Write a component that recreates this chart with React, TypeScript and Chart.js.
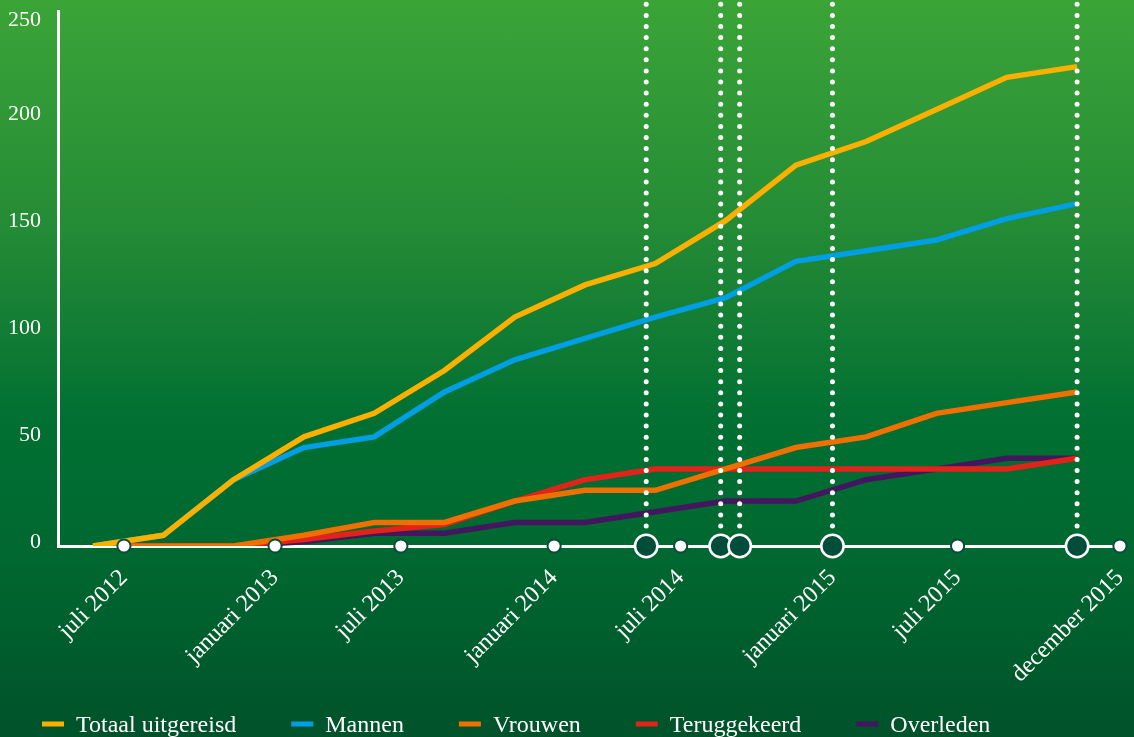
import React, { useEffect, useRef } from 'react';
import { Chart, registerables } from 'chart.js';

Chart.register(...registerables);

const seriesNames = ['Totaal uitgereisd', 'Mannen', 'Vrouwen', 'Teruggekeerd', 'Overleden'];
const seriesColors = ['#fbb000', '#009fe3', '#ef7000', '#e2231a', '#43165f'];

// data point index (one point per period)
const periods = [0, 1, 2, 3, 4, 5, 6, 7, 8, 9, 10, 11, 12, 13, 14];
const totaal = [0, 5, 31, 51, 62, 82, 107, 122, 132, 152, 178, 189, 204, 219, 224];
const mannen = [0, 5, 31, 46, 51, 72, 87, 97, 107, 116, 133, 138, 143, 153, 160];
const vrouwen = [0, 0, 0, 5, 11, 11, 21, 26, 26, 36, 46, 51, 62, 67, 72];
const teruggekeerd = [0, 0, 0, 3, 7, 10, 21, 31, 36, 36, 36, 36, 36, 36, 41];
const overleden = [0, 0, 0, 2, 6, 6, 11, 11, 16, 21, 21, 31, 36, 41, 41];

const xTickPositions = [0.44, 2.59, 4.38, 6.56, 8.36, 10.52, 12.3, 14.61];
const xTickLabels = ['juli 2012', 'januari 2013', 'juli 2013', 'januari 2014', 'juli 2014', 'januari 2015', 'juli 2015', 'december 2015'];
const eventPositions = [7.87, 8.93, 9.2, 10.52, 14.0];
const yTicks = [0, 50, 100, 150, 200, 250];

const seriesValues = [totaal, mannen, vrouwen, teruggekeerd, overleden];
const FONT = '"Liberation Serif", "Times New Roman", serif';

const markersPlugin = {
  id: 'markers',
  afterDatasetsDraw(chart: any) {
    const { ctx, scales } = chart;
    const x = scales.x;
    const y = scales.y;
    const axisY = y.getPixelForValue(0);
    ctx.save();
    // dotted vertical lines
    ctx.fillStyle = '#ffffff';
    eventPositions.forEach((v) => {
      const px = x.getPixelForValue(v);
      for (let py = axisY - 20; py > 0; py -= 11.1) {
        ctx.beginPath();
        ctx.arc(px, py, 2.5, 0, Math.PI * 2);
        ctx.fill();
      }
    });
    // small dots at ticks
    xTickPositions.forEach((v) => {
      const px = x.getPixelForValue(v);
      ctx.beginPath();
      ctx.arc(px, axisY, 6.6, 0, Math.PI * 2);
      ctx.fillStyle = '#ffffff';
      ctx.fill();
      ctx.lineWidth = 2;
      ctx.strokeStyle = '#0c4c3a';
      ctx.stroke();
    });
    // big event circles
    eventPositions.forEach((v) => {
      const px = x.getPixelForValue(v);
      ctx.beginPath();
      ctx.arc(px, axisY, 11.2, 0, Math.PI * 2);
      ctx.fillStyle = '#004e3a';
      ctx.fill();
      ctx.lineWidth = 2.6;
      ctx.strokeStyle = '#ffffff';
      ctx.stroke();
    });
    ctx.restore();
  },
  afterDraw(chart: any) {
    const { ctx } = chart;
    ctx.save();
    ctx.font = '24px ' + FONT;
    ctx.textBaseline = 'alphabetic';
    ctx.textAlign = 'left';
    let lx = 42;
    seriesNames.forEach((n, i) => {
      ctx.fillStyle = seriesColors[i];
      ctx.fillRect(lx, 721.5, 22, 5);
      ctx.fillStyle = '#ffffff';
      ctx.fillText(n, lx + 34, 732);
      lx += 34 + ctx.measureText(n).width + 55;
    });
    ctx.restore();
  },
};

export default function App() {
  const ref = useRef<HTMLCanvasElement | null>(null);

  useEffect(() => {
    if (!ref.current) return;
    const chart = new Chart(ref.current, {
      type: 'line',
      data: {
        datasets: seriesNames.map((name, i) => ({
          label: name,
          data: periods.map((p, j) => ({ x: p, y: seriesValues[i][j] })),
          borderColor: seriesColors[i],
          backgroundColor: seriesColors[i],
          borderWidth: 5.5,
          pointRadius: 0,
          tension: 0,
          fill: false,
        })),
      },
      options: {
        responsive: false,
        animation: false,
        layout: { padding: { top: 11, right: 8, left: 0, bottom: 0 } },
        plugins: {
          legend: { display: false },
          tooltip: { enabled: false },
        },
        scales: {
          x: {
            type: 'linear',
            min: -0.498,
            max: 14.696,
            grid: { display: false, drawTicks: false },
            border: { display: true, color: '#ffffff', width: 3 },
            ticks: {
              color: '#ffffff',
              font: { family: FONT, size: 24 },
              minRotation: 45,
              maxRotation: 45,
              autoSkip: false,
              padding: 18,
              callback: (_v: any, i: number) => xTickLabels[i],
            },
            afterBuildTicks: (s: any) => {
              s.ticks = xTickPositions.map((v) => ({ value: v }));
            },
            afterFit: (s: any) => {
              s.height = 191;
              s.paddingLeft = 0;
              s.paddingRight = 0;
            },
          },
          y: {
            type: 'linear',
            min: 0,
            max: 250,
            grid: { display: false, drawTicks: false },
            border: { display: true, color: '#ffffff', width: 3 },
            ticks: {
              color: '#ffffff',
              font: { family: FONT, size: 22 },
              padding: 17,
              labelOffset: -4,
              callback: (v: any) => (v === 250 ? ['', String(v)] : String(v)),
            },
            afterBuildTicks: (s: any) => {
              s.ticks = yTicks.map((v) => ({ value: v }));
            },
            afterFit: (s: any) => {
              s.width = 58;
              s.paddingTop = 0;
              s.paddingBottom = 0;
            },
          },
        },
      },
      plugins: [markersPlugin],
    });
    return () => chart.destroy();
  }, []);

  return (
    <div
      style={{
        position: 'fixed',
        left: 0,
        top: 0,
        width: 1134,
        height: 737,
        background:
          'linear-gradient(to bottom, #3ba437 0%, #258c36 30%, #0b7733 50%, #017032 56%, #006830 75%, #00522a 100%)',
      }}
    >
      <canvas ref={ref} width={1134} height={737} style={{ display: 'block' }} />
    </div>
  );
}
